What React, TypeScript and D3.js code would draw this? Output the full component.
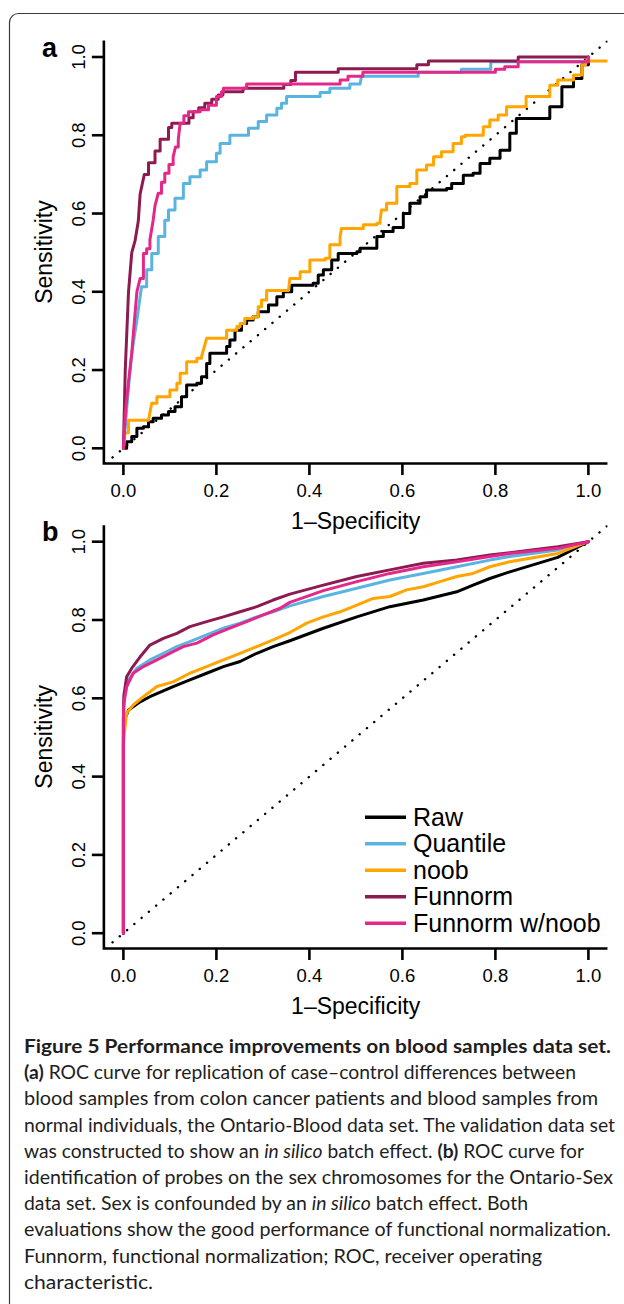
import React from "react";
import * as d3 from "d3";

type P = [number, number];

const seriesNames = ["Raw", "Quantile", "noob", "Funnorm", "Funnorm w/noob"];
const seriesColors = ["#000000", "#5AB4E2", "#FFA500", "#8E1B50", "#E3288A"];

const xTicks = [0, 0.2, 0.4, 0.6, 0.8, 1.0];
const yTicks = [0, 0.2, 0.4, 0.6, 0.8, 1.0];

// Panel a (step ROC curves)
const rawA: P[] = [[0,0],[0.007,0.017],[0.018,0.03],[0.029,0.051],[0.043,0.055],[0.054,0.068],[0.064,0.077],[0.082,0.085],[0.097,0.094],[0.111,0.106],[0.125,0.132],[0.136,0.162],[0.158,0.166],[0.168,0.183],[0.179,0.217],[0.186,0.243],[0.211,0.243],[0.222,0.26],[0.229,0.277],[0.24,0.302],[0.254,0.319],[0.265,0.328],[0.279,0.336],[0.29,0.349],[0.312,0.366],[0.33,0.387],[0.344,0.40],[0.362,0.417],[0.408,0.422],[0.419,0.443],[0.43,0.456],[0.448,0.481],[0.462,0.498],[0.502,0.502],[0.509,0.511],[0.537,0.511],[0.545,0.541],[0.559,0.554],[0.58,0.564],[0.602,0.60],[0.616,0.626],[0.638,0.643],[0.652,0.66],[0.695,0.664],[0.706,0.677],[0.731,0.698],[0.752,0.703],[0.767,0.728],[0.788,0.741],[0.81,0.762],[0.831,0.805],[0.845,0.843],[0.895,0.843],[0.917,0.873],[0.943,0.924],[0.968,0.945],[0.986,0.98],[1,1]];
const quantileA: P[] = [[0,0],[0.005,0.07],[0.011,0.157],[0.018,0.243],[0.029,0.328],[0.039,0.413],[0.05,0.456],[0.061,0.498],[0.075,0.541],[0.089,0.583],[0.097,0.609],[0.111,0.639],[0.129,0.677],[0.143,0.694],[0.165,0.711],[0.179,0.732],[0.2,0.754],[0.208,0.779],[0.229,0.8],[0.261,0.8],[0.269,0.818],[0.29,0.835],[0.308,0.852],[0.33,0.869],[0.34,0.882],[0.351,0.899],[0.419,0.899],[0.423,0.909],[0.441,0.909],[0.444,0.92],[0.484,0.92],[0.487,0.931],[0.509,0.931],[0.512,0.951],[0.634,0.951],[0.634,0.961],[0.727,0.961],[0.727,0.969],[0.785,0.969],[0.79,0.988],[0.977,0.988],[1,1]];
const noobA: P[] = [[0,0],[0.003,0.04],[0.011,0.072],[0.054,0.072],[0.061,0.115],[0.072,0.132],[0.093,0.132],[0.10,0.149],[0.115,0.166],[0.122,0.192],[0.136,0.221],[0.158,0.23],[0.168,0.234],[0.179,0.281],[0.215,0.281],[0.222,0.302],[0.244,0.311],[0.251,0.319],[0.261,0.332],[0.279,0.336],[0.29,0.362],[0.297,0.379],[0.308,0.403],[0.355,0.403],[0.358,0.434],[0.38,0.451],[0.401,0.481],[0.434,0.486],[0.444,0.52],[0.466,0.541],[0.469,0.562],[0.512,0.562],[0.516,0.571],[0.545,0.575],[0.552,0.583],[0.555,0.609],[0.566,0.626],[0.588,0.669],[0.616,0.677],[0.631,0.711],[0.652,0.724],[0.667,0.745],[0.684,0.758],[0.709,0.779],[0.727,0.796],[0.735,0.80],[0.76,0.80],[0.774,0.822],[0.788,0.839],[0.806,0.852],[0.824,0.873],[0.866,0.899],[0.917,0.928],[0.934,0.941],[0.968,0.954],[0.986,0.98],[0.994,0.99],[1.04,0.99]];
const funnormA: P[] = [[0,0],[0.004,0.2],[0.011,0.4],[0.018,0.5],[0.025,0.53],[0.032,0.58],[0.036,0.65],[0.045,0.70],[0.054,0.73],[0.068,0.76],[0.079,0.79],[0.097,0.82],[0.104,0.831],[0.132,0.831],[0.141,0.845],[0.150,0.86],[0.162,0.87],[0.175,0.882],[0.19,0.892],[0.204,0.903],[0.214,0.911],[0.257,0.911],[0.258,0.92],[0.33,0.92],[0.345,0.93],[0.36,0.94],[0.37,0.961],[0.462,0.961],[0.462,0.97],[0.631,0.97],[0.631,0.98],[0.656,0.98],[0.656,0.99],[0.849,0.99],[0.849,1.0],[1,1]];
const funnormNoobA: P[] = [[0,0],[0.005,0.1],[0.011,0.17],[0.018,0.243],[0.024,0.33],[0.029,0.40],[0.036,0.434],[0.043,0.44],[0.043,0.498],[0.05,0.51],[0.057,0.533],[0.064,0.583],[0.068,0.62],[0.075,0.652],[0.082,0.68],[0.089,0.703],[0.098,0.725],[0.107,0.745],[0.112,0.77],[0.118,0.788],[0.122,0.831],[0.13,0.85],[0.14,0.86],[0.165,0.865],[0.183,0.877],[0.20,0.899],[0.211,0.911],[0.215,0.92],[0.265,0.92],[0.265,0.931],[0.466,0.931],[0.466,0.941],[0.483,0.941],[0.483,0.951],[0.515,0.951],[0.515,0.961],[0.795,0.961],[0.80,0.969],[0.82,0.975],[0.849,0.988],[0.977,0.988],[1.0,1.0]];

// Panel b (smooth ROC curves)
const rawB: P[] = [[0,0],[0,0.5],[0.002,0.545],[0.011,0.57],[0.036,0.591],[0.057,0.604],[0.107,0.63],[0.143,0.647],[0.179,0.664],[0.215,0.681],[0.251,0.694],[0.287,0.715],[0.322,0.732],[0.358,0.747],[0.43,0.779],[0.502,0.808],[0.573,0.834],[0.645,0.851],[0.717,0.872],[0.752,0.889],[0.788,0.906],[0.831,0.923],[0.934,0.96],[1,1]];
const quantileB: P[] = [[0,0],[0,0.55],[0.002,0.604],[0.011,0.647],[0.029,0.677],[0.057,0.698],[0.086,0.715],[0.115,0.732],[0.143,0.745],[0.179,0.762],[0.215,0.779],[0.251,0.792],[0.287,0.808],[0.322,0.821],[0.358,0.836],[0.43,0.86],[0.502,0.881],[0.573,0.902],[0.645,0.919],[0.717,0.936],[0.788,0.953],[0.831,0.962],[0.934,0.979],[1,1]];
const noobB: P[] = [[0,0],[0,0.48],[0.002,0.51],[0.007,0.562],[0.021,0.583],[0.043,0.604],[0.072,0.63],[0.107,0.642],[0.143,0.664],[0.179,0.681],[0.215,0.698],[0.251,0.715],[0.287,0.732],[0.322,0.749],[0.358,0.768],[0.394,0.792],[0.43,0.808],[0.466,0.821],[0.502,0.838],[0.537,0.855],[0.573,0.86],[0.609,0.877],[0.645,0.885],[0.681,0.898],[0.717,0.911],[0.752,0.919],[0.788,0.936],[0.831,0.949],[0.934,0.97],[1,1]];
const funnormB: P[] = [[0,0],[0,0.55],[0.001,0.608],[0.007,0.655],[0.018,0.677],[0.036,0.706],[0.057,0.736],[0.086,0.753],[0.115,0.766],[0.143,0.783],[0.179,0.796],[0.215,0.808],[0.251,0.821],[0.287,0.834],[0.322,0.851],[0.358,0.866],[0.43,0.889],[0.502,0.911],[0.573,0.928],[0.645,0.945],[0.717,0.953],[0.788,0.966],[0.831,0.972],[0.934,0.987],[1,1]];
const funnormNoobB: P[] = [[0,0],[0,0.55],[0.001,0.587],[0.007,0.63],[0.021,0.664],[0.043,0.681],[0.072,0.698],[0.107,0.719],[0.129,0.732],[0.158,0.741],[0.193,0.762],[0.229,0.779],[0.265,0.796],[0.301,0.813],[0.337,0.83],[0.358,0.845],[0.43,0.875],[0.502,0.898],[0.573,0.919],[0.645,0.936],[0.717,0.949],[0.788,0.962],[0.831,0.97],[0.934,0.983],[1,1]];

const panelASeries = [rawA, quantileA, noobA, funnormA, funnormNoobA];
const panelBSeries = [rawB, quantileB, noobB, funnormB, funnormNoobB];

type Seg = { t: string; s?: "b" | "i" };
const captionLines: Seg[][] = [
  [{ t: "Figure 5 Performance improvements on blood samples data set.", s: "b" }],
  [{ t: "(a)", s: "b" }, { t: " ROC curve for replication of case\u2013control differences between" }],
  [{ t: "blood samples from colon cancer patients and blood samples from" }],
  [{ t: "normal individuals, the Ontario-Blood data set. The validation data set" }],
  [{ t: "was constructed to show an " }, { t: "in silico", s: "i" }, { t: " batch effect. " }, { t: "(b)", s: "b" }, { t: " ROC curve for" }],
  [{ t: "identification of probes on the sex chromosomes for the Ontario-Sex" }],
  [{ t: "data set. Sex is confounded by an " }, { t: "in silico", s: "i" }, { t: " batch effect. Both" }],
  [{ t: "evaluations show the good performance of functional normalization." }],
  [{ t: "Funnorm, functional normalization; ROC, receiver operating" }],
  [{ t: "characteristic." }],
];
const captionWidths = [587, 552, 574, 591, 560, 589, 504, 587, 518, 129];

const FONT = "'Liberation Sans', Arial, Helvetica, sans-serif";
const CAP_FONT = "Lato, 'Open Sans', sans-serif";

const xScale = d3.scaleLinear().domain([0, 1]).range([123.4, 588.4]);

// ROC step path: steep tiny moves are drawn straight, otherwise horizontal-then-vertical steps
function rocPath(pts: P[], ys: d3.ScaleLinear<number, number>): string {
  const p = d3.path();
  p.moveTo(xScale(pts[0][0]), ys(pts[0][1]));
  for (let i = 1; i < pts.length; i++) {
    const [a0, b0] = pts[i - 1];
    const [a1, b1] = pts[i];
    const dx = a1 - a0, dy = b1 - b0;
    if (dx > 0 && dy > 0 && dy / dx > 4) {
      p.lineTo(xScale(a1), ys(b1));
    } else {
      p.lineTo(xScale(a1), ys(b0));
      p.lineTo(xScale(a1), ys(b1));
    }
  }
  return p.toString();
}

function Panel({ yScale, series, label, step, legend }: { yScale: d3.ScaleLinear<number, number>; series: P[][]; label: string; step: boolean; legend: boolean }) {
  const xMin = -0.042, xMax = 1.041, yMin = -0.039, yMax = 1.042;
  const x0 = xScale(xMin), x1 = xScale(xMax);
  const yTop = yScale(yMax), yBot = yScale(yMin);
  const line = d3.line<P>().x(d => xScale(d[0])).y(d => yScale(d[1])).curve(d3.curveLinear);
  const clipId = "clip" + label;
  return (
    <g>
      <defs>
        <clipPath id={clipId}>
          <rect x={x0} y={yTop} width={x1 - x0} height={yBot - yTop} />
        </clipPath>
      </defs>
      <g clipPath={`url(#${clipId})`}>
        <line x1={xScale(yMin)} y1={yScale(yMin)} x2={xScale(yMax)} y2={yScale(yMax)} stroke="#000" strokeWidth={2.4} strokeDasharray="0.1 9.4" strokeLinecap="round" />
        {series.map((s, i) => (
          <path key={i} d={step ? rocPath(s, yScale) : (line(s) || "")} fill="none" stroke={seriesColors[i]} strokeWidth={3} strokeLinejoin="round" strokeLinecap="round" />
        ))}
      </g>
      <path d={`M${x0},${yTop}V${yBot}H${x1}`} fill="none" stroke="#000" strokeWidth={2.6} />
      {xTicks.map(t => (
        <g key={"x" + t}>
          <line x1={xScale(t)} x2={xScale(t)} y1={yBot} y2={yBot + 11.5} stroke="#000" strokeWidth={2.6} />
          <text x={xScale(t)} y={yBot + 33.5} textAnchor="middle" fontFamily={FONT} fontSize={18.5} fill="#000">{t.toFixed(1)}</text>
        </g>
      ))}
      {yTicks.map(t => (
        <g key={"y" + t}>
          <line x1={x0} x2={x0 - 12} y1={yScale(t)} y2={yScale(t)} stroke="#000" strokeWidth={2.6} />
          <text transform={`translate(${x0 - 18.5},${yScale(t)}) rotate(-90)`} textAnchor="middle" fontFamily={FONT} fontSize={18.5} fill="#000">{t.toFixed(1)}</text>
        </g>
      ))}
      <text x={(x0 + x1) / 2} y={yBot + 65.8} textAnchor="middle" fontFamily={FONT} fontSize={23} fill="#000">1{"\u2013"}Specificity</text>
      <text transform={`translate(52,${(yTop + yBot) / 2}) rotate(-90)`} textAnchor="middle" fontFamily={FONT} fontSize={23} fill="#000">Sensitivity</text>
      <text x={42} y={yTop + 16} fontFamily={FONT} fontSize={27} fontWeight="bold" fill="#000">{label}</text>
      {legend && seriesNames.map((n, i) => {
        const ly = 817.3 + i * 26.5;
        return (
          <g key={n}>
            <line x1={365} x2={406} y1={ly} y2={ly} stroke={seriesColors[i]} strokeWidth={3.4} />
            <text x={413} y={ly + 8.5} fontFamily={FONT} fontSize={25} fill="#000">{n}</text>
          </g>
        );
      })}
    </g>
  );
}

export default function App() {
  const yA = d3.scaleLinear().domain([0, 1]).range([448.3, 57]);
  const yB = d3.scaleLinear().domain([0, 1]).range([933.2, 541.7]);
  return (
    <svg width={624} height={1304} style={{ position: "absolute", left: 0, top: 0, background: "#fff" }}>
      <rect x={0} y={0} width={624} height={1304} fill="#fff" />
      <rect x={9.5} y={13.5} width={700} height={1400} rx={9} fill="none" stroke="#3c3c3c" strokeWidth={1.2} />
      <Panel yScale={yA} series={panelASeries} label="a" step={true} legend={false} />
      <Panel yScale={yB} series={panelBSeries} label="b" step={false} legend={true} />
      {captionLines.map((segs, i) => (
        <text key={i} x={24} y={1053 + i * 26.2} fontFamily={CAP_FONT} fontSize={19.5} fill="#1e1e1e"
          textLength={captionWidths[i]} lengthAdjust="spacingAndGlyphs"
          fontWeight={i === 0 ? "bold" : "normal"}>
          {segs.map((s, j) => (
            <tspan key={j} fontWeight={s.s === "b" ? "bold" : undefined} fontStyle={s.s === "i" ? "italic" : undefined}>{s.t}</tspan>
          ))}
        </text>
      ))}
    </svg>
  );
}
